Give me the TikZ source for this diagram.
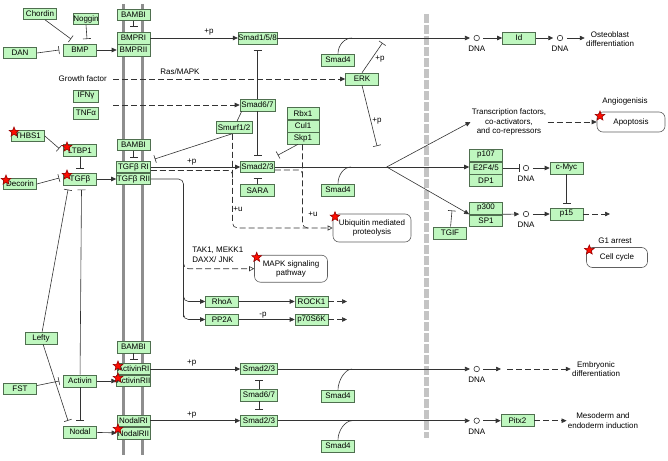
\documentclass[tikz,border=0pt]{standalone}
\usepackage{fontspec}
\setmainfont{Liberation Sans}
\usetikzlibrary{arrows.meta,shapes.geometric}
\definecolor{genefill}{HTML}{BFF7BF}
\definecolor{geneline}{HTML}{4F6F4F}
\definecolor{edgeline}{HTML}{333333}
\definecolor{membrane}{HTML}{8E8E8E}
\definecolor{nucleus}{HTML}{C4C4C4}
\newcommand\kfont{\fontsize{8}{9.5}\selectfont}
\tikzset{
  gene/.style={draw=geneline, fill=genefill, minimum width=33pt, minimum height=12pt, inner sep=0pt, font=\kfont},
  mapbox/.style={draw=gray!75!black, fill=white, rounded corners=6pt, align=center, inner sep=0pt, font=\kfont},
  txt/.style={align=center, inner sep=1pt, font=\kfont},
  dna/.style={circle, draw=edgeline, minimum size=5.5pt, inner sep=0pt, outer sep=4pt, label={[txt,label distance=0pt]below:DNA}},
  hit/.style={star, star points=5, star point ratio=2.3, minimum size=10pt, inner sep=0pt, draw=red!60!black, fill=red!90!orange},
  brk/.style={dash pattern=on 6pt off 3pt},
  act/.style={-{Triangle[length=5pt,width=4.5pt]}},
  inh/.style={-{Bar[width=8pt]}},
  ind/.style={brk, -{Triangle[length=5pt,width=4.5pt]}},
  lnk/.style={brk, -{Triangle[open,length=5pt,width=5pt]}}
}
\begin{document}
\begin{tikzpicture}[x=1pt, y=-1pt, line width=0.6pt]
  \useasboundingbox (0,0) rectangle (668,460);
  % membranes
  \draw[membrane, line width=3.5pt] (123.3,4) -- (123.3,455) (142.7,4) -- (142.7,455);
  \draw[nucleus, line width=5pt, dash pattern=on 9pt off 2pt] (426.5,14) -- (426.5,438);
  % ligands and receptors
  \path
    (40,14) node[gene, minimum height=11pt] (chordin) {Chordin}
    (86,19) node[gene, minimum width=25pt, minimum height=11pt] (noggin) {Noggin}
    (20,53) node[gene, minimum height=11pt] (dan) {DAN}
    (80,50) node[gene] (bmp) {BMP}
    (133.5,15) node[gene, minimum height=11pt] (bambiA) {BAMBI}
    (133.5,38) node[gene] (bmpri) {BMPRI}
    (133.5,50) node[gene] (bmprii) {BMPRII}
    (86,96) node[gene, minimum width=25pt] (ifng) {IFNγ}
    (86,113) node[gene, minimum width=25pt] (tnfa) {TNFα}
    (28,136) node[gene, minimum height=11pt] (thbs) {THBS1}
    (80,150.5) node[gene] (ltbp) {LTBP1}
    (133.5,145) node[gene, minimum height=11pt] (bambiB) {BAMBI}
    (133.5,167) node[gene, minimum width=34pt, minimum height=11.5pt] (tgfbri) {TGFβ RI}
    (133.5,179) node[gene, minimum width=34pt, minimum height=11.5pt] (tgfbrii) {TGFβ RII}
    (80,179) node[gene] (tgfb) {TGFβ}
    (20,184) node[gene, minimum height=11pt] (decorin) {Decorin}
    (41,338) node[gene, minimum width=32pt] (lefty) {Lefty}
    (20,389) node[gene, minimum height=11pt] (fst) {FST}
    (80,381) node[gene] (activin) {Activin}
    (80,432) node[gene] (nodal) {Nodal}
    (133.5,347) node[gene] (bambiC) {BAMBI}
    (133.5,369) node[gene, minimum height=11.5pt] (actri) {ActivinRI}
    (133.5,381) node[gene, minimum height=11.5pt] (actrii) {ActivinRII}
    (133.5,420.7) node[gene, minimum height=11.5pt] (nodalri) {NodalRI}
    (133.5,433.3) node[gene, minimum height=11.5pt] (nodalrii) {NodalRII};
  % cytoplasm
  \path
    (257.5,38) node[gene] (smadA) {Smad1/5/8}
    (257.5,105) node[gene, minimum width=35pt] (smad67A) {Smad6/7}
    (234,127.5) node[gene, minimum width=36pt] (smurf) {Smurf1/2}
    (303,113.5) node[gene, minimum width=32pt] (rbx) {Rbx1}
    (303,126) node[gene, minimum width=32pt] (cul) {Cul1}
    (303,138) node[gene, minimum width=32pt] (skp) {Skp1}
    (338,60) node[gene] (smad4A) {Smad4}
    (362,79) node[gene] (erk) {ERK}
    (257.5,167) node[gene, minimum width=34pt, minimum height=11pt] (smadB) {Smad2/3}
    (257.5,190.5) node[gene, minimum width=34pt] (sara) {SARA}
    (338,190) node[gene] (smad4B) {Smad4}
    (222,301.5) node[gene, minimum height=11pt] (rhoa) {RhoA}
    (222,319.5) node[gene, minimum height=11pt] (pp2a) {PP2A}
    (311.5,301.5) node[gene, minimum height=11pt] (rock) {ROCK1}
    (311.5,319.5) node[gene, minimum height=11pt] (p70) {p70S6K}
    (259,369) node[gene, minimum width=37pt, minimum height=11pt] (smadC) {Smad2/3}
    (259,395) node[gene, minimum width=37pt] (smad67B) {Smad6/7}
    (259,420.7) node[gene, minimum width=37pt, minimum height=11.5pt] (smadD) {Smad2/3}
    (338,396) node[gene] (smad4C) {Smad4}
    (338,446) node[gene] (smad4D) {Smad4}
    (372,228) node[mapbox, minimum width=78pt, minimum height=28pt] (ubiq) {Ubiquitin mediated\\proteolysis}
    (291,268.7) node[mapbox, minimum width=73pt, minimum height=27pt] (mapk) {MAPK signaling\\pathway};
  % nucleus
  \path
    (476.7,38) node[dna] (dnaA) {}
    (519,38) node[gene] (id) {Id}
    (560,38) node[dna] (dnaB) {}
    (610,39) node[txt] (osteo) {Osteoblast\\differentiation}
    (509,122) node[txt] (tf) {Transcription factors,\\co-activators,\\and co-repressors}
    (631,122) node[mapbox, minimum width=68pt, minimum height=20pt] (apop) {Apoptosis}
    (486,155) node[gene] (p107) {p107}
    (486,168) node[gene] (e2f) {E2F4/5}
    (486,180.3) node[gene] (dp1) {DP1}
    (526,168) node[dna] (dnaC) {}
    (566.5,168) node[gene] (cmyc) {c-Myc}
    (486,208) node[gene] (p300) {p300}
    (486,220.3) node[gene, minimum height=11pt] (sp1) {SP1}
    (526,214) node[dna] (dnaD) {}
    (566.5,214) node[gene] (p15) {p15}
    (450,233) node[gene] (tgif) {TGIF}
    (617,257.5) node[mapbox, minimum width=61pt, minimum height=20pt] (cellc) {Cell cycle}
    (476.7,369) node[dna] (dnaE) {}
    (596,369) node[txt] (emb) {Embryonic\\differentiation}
    (476.7,420.7) node[dna] (dnaF) {}
    (517.5,420.7) node[gene] (pitx) {Pitx2}
    (603,420.7) node[txt] (meso) {Mesoderm and\\endoderm induction};
  % free labels
  \path
    (108,79) node[txt, anchor=east] (gf) {Growth factor}
    (180,72) node[txt] (ras) {Ras/MAPK}
    (191,255) node[txt, anchor=west, align=left] (tak) {TAK1, MEKK1\\DAXX/ JNK}
    (625,101.7) node[txt] (angio) {Angiogenisis}
    (615,240.7) node[txt] (g1) {G1 arrest}
    (209,32.5) node[txt] {+p}
    (191.7,162.3) node[txt] {+p}
    (191.7,363.5) node[txt] {+p}
    (191.7,415.5) node[txt] {+p}
    (380,59) node[txt] {+p}
    (377,121) node[txt] {+p}
    (263,315) node[txt] {-p}
    (238,209.3) node[txt] {+u}
    (313,214) node[txt] {+u};
  % free ends
  \coordinate (gfA) at (113,79);
  \coordinate (ifA) at (113,105);
  \coordinate (erkU) at (382.5,43);
  \coordinate (erkD) at (377,146);
  \coordinate (jA) at (352,38);
  \coordinate (jB) at (351,167);
  \coordinate (jC) at (352,369);
  \coordinate (jD) at (352,420.7);
  \coordinate (spl) at (386.7,167);
  \coordinate (tgifE) at (452,210.5);
  \coordinate (uT) at (232.5,178);
  \coordinate (uL) at (232.5,228);
  \coordinate (uS) at (302.5,178);
  \coordinate (uR) at (302.5,228);
  \coordinate (rb) at (183.5,312);
  \coordinate (rr) at (183.5,292);
  \coordinate (rm) at (183.5,261);
  \coordinate (rockE) at (347,301.5);
  \coordinate (p70E) at (347,319.5);
  \coordinate (p15E) at (610,214);
  \coordinate (embA) at (501,369);
  \coordinate (embB) at (507,369);
  \begin{scope}[color=edgeline]
    \draw[inh] ([xshift=5pt]chordin.south) to ([xshift=-9pt,yshift=4.7pt]bmp.north);
    \draw[inh] (noggin.south) to ([xshift=7pt,yshift=4.7pt]bmp.north);
    \draw[inh] (dan.east) to ([xshift=-4pt]bmp.west);
    \draw[act] (bmp) to (bmprii);
    \draw[inh] (bambiA) to ([yshift=5.5pt]bmpri.north);
    \draw[act] (bmpri) to (smadA);
    \draw[act] (smadA) to (dnaA);
    \draw[act] (dnaA) to (id);
    \draw[act] (id) to (dnaB);
    \draw[act] (dnaB) to (dnaB -| osteo.west);
    \draw (smad4A.north) .. controls +(0,-9) and +(-7,0) .. (jA);
    \draw[ind] (gfA) to (erk);
    \draw[inh] (erk.north) to (erkU);
    \draw[inh] (erk.south) to (erkD);
    \draw[ind] (ifA) to (smad67A);
    \draw[inh] (smad67A) to ([yshift=-5.5pt]smadA.south);
    \draw[inh] (smad67A) to ([yshift=6pt]smadB.north);
    \draw ([xshift=3pt]smurf.north) to ([xshift=2pt]smad67A.south west);
    \draw[inh] ([xshift=-2pt]smurf.south) to ([xshift=4pt,yshift=2pt]tgfbri.north east);
    \draw[inh] (bambiB) to ([yshift=3.5pt]tgfbri.north);
    \draw[act] (tgfb) to (tgfbrii);
    \draw[inh] (ltbp) to ([yshift=4pt]tgfb.north);
    \draw[inh] (thbs.east) to ([xshift=-4pt,yshift=2pt]ltbp.west);
    \draw[inh] (decorin.east) to ([xshift=-4pt,yshift=1pt]tgfb.west);
    \draw[act] (tgfbri) to (smadB);
    \draw[brk, rounded corners=4pt] ([yshift=-3.5pt]tgfbri.east) -| (uT);
    \draw[lnk, rounded corners=5pt] (uL |- smurf.south) |- (ubiq.west);
    \draw[brk, rounded corners=4pt] ([yshift=-3pt]smadB.east) -| (uS);
    \draw[brk, rounded corners=5pt] (uR |- skp.south) |- ([xshift=8pt]uR);
    \draw[inh] ([xshift=-5pt]skp.south) to ([xshift=3pt,yshift=6pt]smadB.north east);
    \draw[inh] (sara) to ([yshift=-5pt]smadB.south);
    \draw (smadB) to (spl);
    \draw (smad4B.north) .. controls +(0,-9) and +(-7,0) .. (jB);
    \draw[act] (spl) to (spl -| e2f.west);
    \draw[act] (spl) to (tf.west);
    \draw[act] (spl) to (p300.south west);
    \draw[inh] (tgif) to (tgifE);
    \draw[inh] (e2f) to (dnaC);
    \draw[act] (dnaC) to (cmyc);
    \draw[inh] (cmyc) to ([yshift=4pt]p15.north);
    \draw[act] (p300.south east) to (dnaD);
    \draw[act] (dnaD) to (p15);
    \draw[ind] (p15) to (p15E);
    \draw[ind] (tf.east) to (apop.west);
    \draw[act, rounded corners=5pt] (tgfbrii.east) -| (rb) |- (pp2a.west);
    \draw[act, rounded corners=5pt] (rr) |- (rhoa.west);
    \draw[lnk, rounded corners=5pt] (rm) |- (mapk.west);
    \draw[act] (rhoa) to (rock);
    \draw[act] (pp2a) to (p70);
    \draw[ind] (rock) to (rockE);
    \draw[ind] (p70) to (p70E);
    \draw[inh] (bambiC) to ([yshift=3.5pt]actri.north);
    \draw[act] (activin) to (actrii);
    \draw[act] (nodal) to (nodalrii);
    \draw[act] (actri) to (smadC);
    \draw[act] (nodalri) to (smadD);
    \draw[inh] (smad67B) to ([yshift=-5pt]smadC.south);
    \draw[inh] (smad67B) to ([yshift=5pt]smadD.north);
    \draw[act] (smadC) to (dnaE);
    \draw (smad4C.north) .. controls +(0,-9) and +(-7,0) .. (jC);
    \draw[act] (dnaE) to (embA);
    \draw[ind] (embB) to (embB -| emb.west);
    \draw[act] (smadD) to (dnaF);
    \draw (smad4D.north) .. controls +(0,-9) and +(-7,0) .. (jD);
    \draw[act] (dnaF) to (pitx);
    \draw[ind] (pitx) to (pitx -| meso.west);
    \draw[inh] (lefty) to ([xshift=-12pt,yshift=-4.3pt]tgfb.south);
    \draw[inh] (lefty) to ([xshift=-12pt,yshift=5pt]nodal.north);
    \draw[inh] (activin) to ([xshift=1.5pt,yshift=-4.3pt]tgfb.south);
    \draw[inh] (activin) to ([yshift=5pt]nodal.north);
    \draw[inh] (fst) to ([xshift=-4pt]activin.west);
  \end{scope}
  % disease markers
  \path
    (14,132) node[hit] {}
    (67,147) node[hit] {}
    (67,175) node[hit] {}
    (6,180) node[hit] {}
    (118,366) node[hit] {}
    (118,378) node[hit] {}
    (118,429) node[hit] {}
    (256.7,257.3) node[hit] {}
    (335,216.7) node[hit] {}
    (600,116) node[hit] {}
    (589.3,250) node[hit] {};
\end{tikzpicture}
\end{document}
